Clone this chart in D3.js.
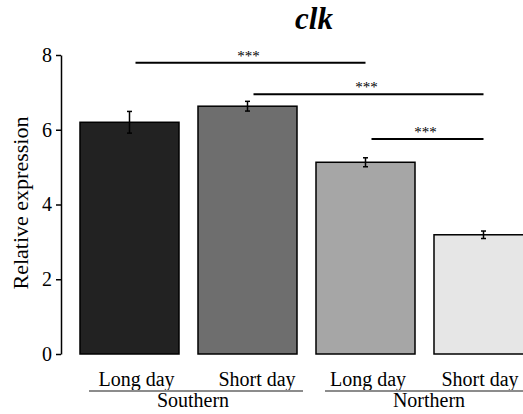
<!DOCTYPE html>
<html>
<head>
<meta charset="utf-8">
<script src="https://cdn.jsdelivr.net/npm/d3@7"></script>
<style>
  html, body { margin: 0; padding: 0; background: #fff; }
  svg { display: block; }
  svg text { font-family: "Liberation Serif", Tinos, "Times New Roman", Times, "DejaVu Serif", "Noto Serif", serif !important; fill: #000; }
</style>
</head>
<body>
<svg id="chart" width="523" height="414"></svg>
<script>
// Relative clk expression by population and photoperiod
const conditions = ["S-LD", "S-SD", "N-LD", "N-SD"];
const conditionLabels = ["Long day", "Short day", "Long day", "Short day"];
const groups = ["Southern", "Northern"];
const groupMembers = [["S-LD", "S-SD"], ["N-LD", "N-SD"]];
const means = [6.2, 6.63, 5.13, 3.19];
const errors = [0.29, 0.13, 0.12, 0.1];
const barColors = ["#222222", "#6e6e6e", "#a6a6a6", "#e6e6e6"];
const yTicks = [0, 2, 4, 6, 8];
const brackets = [
  { from: "S-LD", to: "N-LD", level: 7.79, label: "***" },
  { from: "S-SD", to: "N-SD", level: 6.95, label: "***" },
  { from: "N-LD", to: "N-SD", level: 5.75, label: "***" }
];
const title = "clk";
const yTitle = "Relative expression";

// layout tweaks for the hand-placed category labels
const labelShift = [7, 9.5, 2.5, -3.5];

const svg = d3.select("#chart");

const x = d3.scaleBand()
  .domain(conditions)
  .range([70.5, 542.5])
  .paddingInner(0.161)
  .paddingOuter(0.0805);

const y = d3.scaleLinear().domain([0, 8]).range([354, 55]);

// title
svg.append("text")
  .attr("x", 314).attr("y", 29)
  .attr("text-anchor", "middle")
  .style("font-size", "31px")
  .style("font-weight", "bold")
  .style("font-style", "italic")
  .text(title);

// y axis
const yAxis = svg.append("g")
  .attr("transform", "translate(61,0)")
  .call(d3.axisLeft(y).tickValues(yTicks).tickSize(5).tickSizeOuter(0).tickPadding(4));
yAxis.attr("font-family", null);
yAxis.select(".domain").attr("stroke", "#000").attr("stroke-width", 1.5);
yAxis.selectAll(".tick line").attr("stroke", "#000").attr("stroke-width", 1.5);
yAxis.selectAll(".tick text")
  .style("font-size", "20px")
  .attr("fill", "#000");

svg.append("text")
  .attr("transform", "translate(28,203) rotate(-90)")
  .attr("text-anchor", "middle")
  .style("font-size", "22px")
  .text(yTitle);

// bars
svg.append("g").selectAll("rect")
  .data(conditions)
  .join("rect")
  .attr("x", d => x(d))
  .attr("width", x.bandwidth())
  .attr("y", (d, i) => y(means[i]))
  .attr("height", (d, i) => y(0) - y(means[i]))
  .attr("fill", (d, i) => barColors[i])
  .attr("stroke", "#000")
  .attr("stroke-width", 1.5);

// error bars
const eb = svg.append("g").attr("stroke", "#000").attr("stroke-width", 1.5);
conditions.forEach((c, i) => {
  const cx = x(c) + x.bandwidth() / 2;
  const top = y(means[i] + errors[i]);
  const bot = y(means[i] - errors[i]);
  eb.append("line").attr("x1", cx).attr("x2", cx).attr("y1", top).attr("y2", bot);
  eb.append("line").attr("x1", cx - 2.5).attr("x2", cx + 2.5).attr("y1", top).attr("y2", top);
  eb.append("line").attr("x1", cx - 2.5).attr("x2", cx + 2.5).attr("y1", bot).attr("y2", bot);
});

// significance brackets
const bg = svg.append("g");
brackets.forEach(b => {
  const x1 = x(b.from) + x.bandwidth() / 2 + 6;
  const x2 = x(b.to) + x.bandwidth() / 2;
  const ly = y(b.level);
  bg.append("line")
    .attr("x1", x1).attr("x2", x2).attr("y1", ly).attr("y2", ly)
    .attr("stroke", "#000").attr("stroke-width", 2);
  bg.append("text")
    .attr("x", (x1 + x2) / 2 - 2).attr("y", ly - 2)
    .attr("text-anchor", "middle")
    .style("font-size", "15px")
    .text(b.label);
});

// category labels
svg.append("g").selectAll("text")
  .data(conditions)
  .join("text")
  .attr("x", (d, i) => x(d) + x.bandwidth() / 2 + labelShift[i])
  .attr("y", 386)
  .attr("text-anchor", "middle")
  .style("font-size", "20px")
  .text((d, i) => conditionLabels[i]);

// group underlines and names
groups.forEach((g, gi) => {
  const first = groupMembers[gi][0];
  const last = groupMembers[gi][groupMembers[gi].length - 1];
  const gx1 = x(first) + 9;
  const gx2 = x(last) + x.bandwidth() + 6;
  svg.append("line")
    .attr("x1", gx1).attr("x2", gx2).attr("y1", 391).attr("y2", 391)
    .attr("stroke", "#8c8c8c").attr("stroke-width", 2);
  svg.append("text")
    .attr("x", (gx1 + gx2) / 2 - 3).attr("y", 407)
    .attr("text-anchor", "middle")
    .style("font-size", "20px")
    .text(g);
});
</script>
</body>
</html>
